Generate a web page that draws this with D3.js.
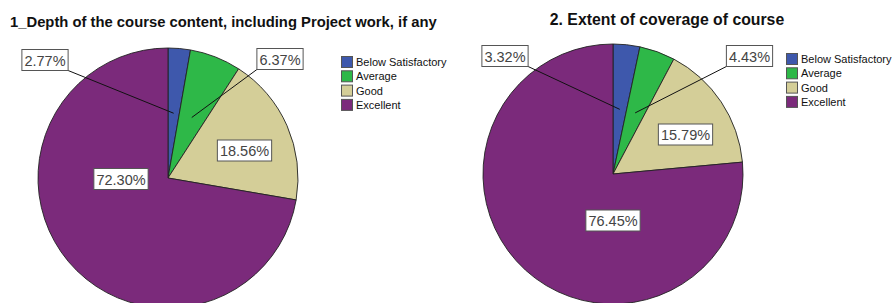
<!DOCTYPE html>
<html><head><meta charset="utf-8">
<script src="https://cdn.jsdelivr.net/npm/d3@7"></script>
<style>
body{margin:0;background:#fff;}
svg{display:block;font-family:"Liberation Sans",Arial,sans-serif;}
</style></head>
<body>
<svg id="chart" width="894" height="303"></svg>
<script>
const categories = ["Below Satisfactory", "Average", "Good", "Excellent"];
const titles = ["1_Depth of the course content, including Project work, if any", "2. Extent of coverage of course"];
const chart1Values = [2.77, 6.37, 18.56, 72.30];
const chart2Values = [3.32, 4.43, 15.79, 76.45];
const colors = ["#3E58AC", "#2EB848", "#D4CE98", "#7B2A7B"];

// layout
const charts = [
  {values: chart1Values, title: titles[0], cx: 168, cy: 178, r: 130, titleX: 10, titleY: 26.5, titleAnchor: "start", titleSize: 14.8,
   legendX: 341, legendY: 56,
   labels: [{dx: -123, dy: -118, leader: true}, {dx: 112, dy: -119, leader: true}, {dx: 76.5, dy: -27.5}, {dx: -47, dy: 1}]},
  {values: chart2Values, title: titles[1], cx: 613, cy: 174, r: 130, titleX: 667, titleY: 24.5, titleAnchor: "middle", titleSize: 15.8,
   legendX: 786, legendY: 53,
   labels: [{dx: -108, dy: -118, leader: true}, {dx: 136.5, dy: -118, leader: true}, {dx: 72.5, dy: -39.5}, {dx: 0, dy: 46.5}]}
];

const svg = d3.select("#chart");
const pie = d3.pie().sort(null).value(d => d);

charts.forEach(c => {
  const arcs = pie(c.values);
  const arc = d3.arc().innerRadius(0).outerRadius(c.r);
  const g = svg.append("g").attr("transform", `translate(${c.cx},${c.cy})`);
  g.selectAll("path").data(arcs).join("path")
    .attr("d", arc)
    .attr("fill", (d, i) => colors[i])
    .attr("stroke", "#222")
    .attr("stroke-width", 0.9)
    .attr("stroke-linejoin", "round");

  svg.append("text")
    .attr("x", c.titleX).attr("y", c.titleY)
    .attr("text-anchor", c.titleAnchor)
    .attr("font-weight", "bold").attr("font-size", c.titleSize).attr("fill", "#111")
    .text(c.title);

  // labels
  const mid = d3.arc().innerRadius(c.r / 2).outerRadius(c.r / 2);
  arcs.forEach((a, i) => {
    const L = c.labels[i];
    const txt = c.values[i].toFixed(2) + "%";
    const lg = svg.append("g");
    const t = lg.append("text")
      .attr("x", c.cx + L.dx).attr("y", c.cy + L.dy + 5.5)
      .attr("text-anchor", "middle").attr("font-size", 14.5).attr("fill", "#444")
      .text(txt);
    const bb = t.node().getBBox();
    const bw = bb.width + 5, bh = 21;
    const bx = c.cx + L.dx - bw / 2, by = c.cy + L.dy - bh / 2;
    if (L.leader) {
      const p = mid.centroid(a);
      const lx = L.dx < 0 ? bx + bw : bx;
      lg.insert("line", "text")
        .attr("x1", lx).attr("y1", by + bh)
        .attr("x2", c.cx + p[0]).attr("y2", c.cy + p[1])
        .attr("stroke", "#111").attr("stroke-width", 1);
    }
    lg.insert("rect", "text")
      .attr("x", bx).attr("y", by).attr("width", bw).attr("height", bh)
      .attr("fill", "#fff").attr("stroke", "#555").attr("stroke-width", 1);
  });

  // legend
  const leg = svg.append("g").attr("transform", `translate(${c.legendX},${c.legendY})`);
  categories.forEach((cat, i) => {
    leg.append("rect").attr("x", 0.5).attr("y", i * 14.3 + 0.5).attr("width", 11).attr("height", 11)
      .attr("fill", colors[i]).attr("stroke", "#555").attr("stroke-width", 1);
    leg.append("text").attr("x", 15).attr("y", i * 14.3 + 10)
      .attr("font-size", 11).attr("fill", "#111").text(cat);
  });
});
</script>
</body></html>
